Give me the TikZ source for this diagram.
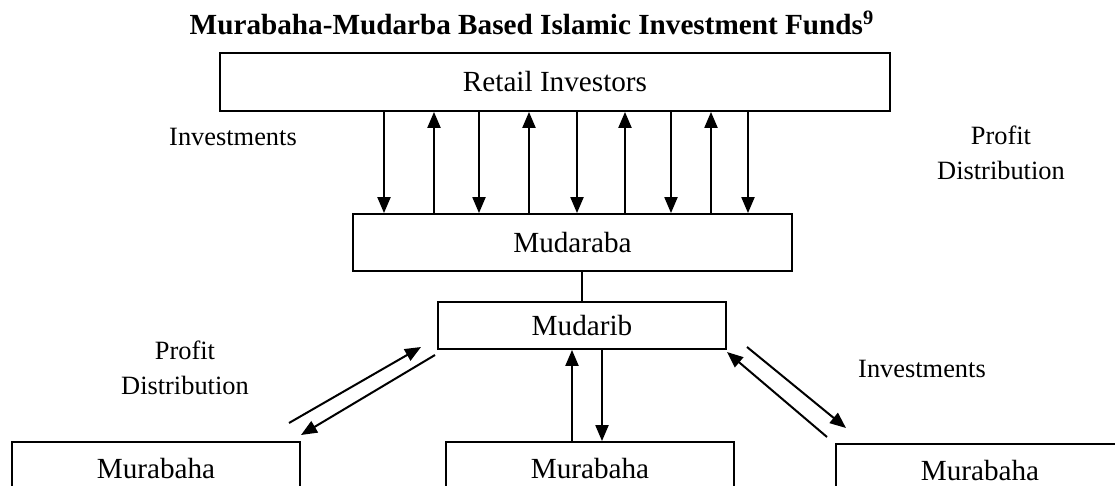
\documentclass[tikz,border=0pt]{standalone}
\usepackage{fontspec}
\setmainfont{Liberation Serif}
\usetikzlibrary{arrows.meta}
\newcommand{\diagfont}{\fontsize{14.6pt}{18pt}\selectfont}
\newcommand{\labfont}{\fontsize{13.2pt}{17.5pt}\selectfont}
\begin{document}
\begin{tikzpicture}[x=0.5pt,y=-0.5pt,
  box/.style={draw,line width=0.9pt,inner sep=0pt,font=\diagfont},
  lab/.style={font=\labfont,align=center,inner sep=0pt},
  arr/.style={line width=1pt,-{Triangle[length=8pt,width=6.5pt]}},
  link/.style={line width=1pt}]
\useasboundingbox (0,0) rectangle (1115,486);
\clip (0,0) rectangle (1115,486);
\fill[white] (0,0) rectangle (1115,486);

% title
\node[font=\diagfont\bfseries,anchor=base,inner sep=0pt] (title) at (532,35)
  {Murabaha-Mudarba Based Islamic Investment Funds\textsuperscript{9}};

% boxes
\node[box,minimum width=335pt,minimum height=29pt] (retail) at (555,82) {Retail Investors};
\node[box,minimum width=219.5pt,minimum height=28.5pt] (mudaraba) at (572.5,242.5) {Mudaraba};
\node[box,minimum width=144pt,minimum height=23.5pt] (mudarib) at (582,325.5) {Mudarib};
\node[box,minimum width=144pt,minimum height=27pt] (murL) at (156,469) {Murabaha};
\node[box,minimum width=144pt,minimum height=27pt] (murM) at (590,469) {Murabaha};
\node[box,minimum width=144pt,minimum height=27pt] (murR) at (980,471) {Murabaha};

% labels
\node[lab,anchor=base] (invL) at (233,146) {Investments};
\node[lab] (pdR) at (1001,153) {Profit\\Distribution};
\node[lab] (pdL) at (185,368) {Profit\\Distribution};
\node[lab,anchor=base] (invR) at (922,378) {Investments};

% arrows between retail investors and mudaraba
\foreach \x in {384,479,577,671,748}{
  \coordinate (c) at (\x,0);
  \draw[arr] (retail.south -| c) -- (mudaraba.north -| c);
}
\foreach \x in {434,529,625,711}{
  \coordinate (c) at (\x,0);
  \draw[arr] (mudaraba.north -| c) -- (retail.south -| c);
}

% mudaraba - mudarib
\draw[link] (mudaraba.south -| mudarib) -- (mudarib.north);

% middle arrows
\coordinate (mu) at (572,0);
\coordinate (md) at (602,0);
\draw[arr] (murM.north -| mu) -- (mudarib.south -| mu);
\draw[arr] (mudarib.south -| md) -- (murM.north -| md);

% left diagonal arrows
\coordinate (l1s) at (289,423); \coordinate (l1e) at (421,347);
\coordinate (l2s) at (435,355); \coordinate (l2e) at (301,435);
\draw[arr] (l1s) -- (l1e);
\draw[arr] (l2s) -- (l2e);

% right diagonal arrows
\coordinate (r1s) at (827,437); \coordinate (r1e) at (727,352);
\coordinate (r2s) at (747,347); \coordinate (r2e) at (846,428);
\draw[arr] (r1s) -- (r1e);
\draw[arr] (r2s) -- (r2e);
\end{tikzpicture}
\end{document}
